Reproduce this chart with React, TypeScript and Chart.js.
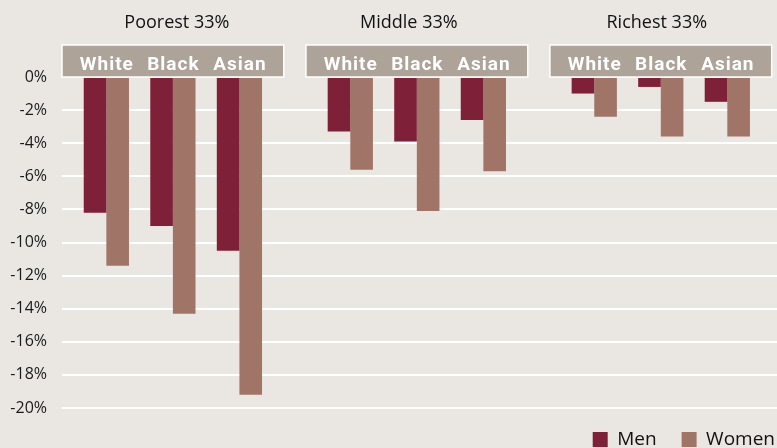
import React, { useEffect, useRef } from "react";
import { Chart, registerables } from "chart.js";

Chart.register(...registerables);

const groups = ["Poorest 33%", "Middle 33%", "Richest 33%"];
const races = ["White", "Black", "Asian"];
const seriesNames = ["Men", "Women"];
// values per group, per race (percent)
const menValues = [
  [-8.2, -9.0, -10.5],
  [-3.3, -3.9, -2.6],
  [-1.0, -0.6, -1.5],
];
const womenValues = [
  [-11.4, -14.3, -19.2],
  [-5.6, -8.1, -5.7],
  [-2.4, -3.6, -3.6],
];
const yTicks = [0, -2, -4, -6, -8, -10, -12, -14, -16, -18, -20];

const GROUP_STRIDE = 11 / 3;
const BOX_PAD = 2 / 3;
const TITLE_SHIFT = [4, -8, -4];

const BG = "#eae7e3";
const MEN = "#7f2039";
const WOMEN = "#a07568";
const BOX = "#ada398";

function buildSeries(values: number[][]) {
  const out: { x: number; y: number }[] = [];
  values.forEach((row, g) =>
    row.forEach((v, r) => out.push({ x: g * GROUP_STRIDE + r, y: v }))
  );
  return out;
}

const headerPlugin = {
  id: "headers",
  afterDatasetsDraw(chart: any) {
    const { ctx, chartArea, scales } = chart;
    const xs = scales.x;
    ctx.save();
    groups.forEach((g, gi) => {
      const base = gi * GROUP_STRIDE;
      const left = xs.getPixelForValue(base - BOX_PAD);
      const right = xs.getPixelForValue(base + races.length - 1 + BOX_PAD);
      const bottom = chartArea.top;
      const top = bottom - 32;
      ctx.fillStyle = BOX;
      ctx.fillRect(left, top, right - left, bottom - top);
      ctx.strokeStyle = "#ffffff";
      ctx.lineWidth = 1.5;
      ctx.strokeRect(left, top, right - left, bottom - top);
      // title
      ctx.fillStyle = "#111111";
      ctx.font = '18px "Open Sans"';
      ctx.textAlign = "center";
      ctx.textBaseline = "alphabetic";
      (ctx as any).letterSpacing = "0px";
      ctx.fillText(g, (left + right) / 2 + TITLE_SHIFT[gi], 28);
      // race labels
      ctx.fillStyle = "#ffffff";
      ctx.font = "bold 19px Roboto";
      (ctx as any).letterSpacing = "1px";
      races.forEach((r, ri) => {
        ctx.fillText(r, xs.getPixelForValue(base + ri) + 0.5, 70);
      });
      (ctx as any).letterSpacing = "0px";
    });
    ctx.restore();
  },
};

const bgPlugin = {
  id: "bg",
  beforeDraw(chart: any) {
    const { ctx, width, height } = chart;
    ctx.save();
    ctx.fillStyle = BG;
    ctx.fillRect(0, 0, width, height);
    ctx.restore();
  },
};

// nudge the legend into the bottom-right corner like the reference
const legendShift = {
  id: "legendShift",
  afterLayout(chart: any) {
    const l = chart.legend;
    if (!l) return;
    l.left += 23;
    l.right += 23;
    l.top -= 3;
    l.bottom -= 3;
  },
};

export default function App() {
  const ref = useRef<HTMLCanvasElement | null>(null);
  useEffect(() => {
    document.body.style.margin = "0";
    document.body.style.overflow = "hidden";
    document.body.style.background = BG;
    if (!ref.current) return;
    const chart = new Chart(ref.current, {
      type: "bar",
      data: {
        datasets: [
          {
            label: seriesNames[0],
            data: buildSeries(menValues),
            backgroundColor: MEN,
            borderWidth: 0,
          },
          {
            label: seriesNames[1],
            data: buildSeries(womenValues),
            backgroundColor: WOMEN,
            borderWidth: 0,
          },
        ],
      },
      options: {
        animation: false,
        responsive: false,
        maintainAspectRatio: false,
        datasets: { bar: { barPercentage: 1, categoryPercentage: 0.68 } },
        layout: { padding: { top: 77, left: 0, right: 0, bottom: 0 } },
        scales: {
          x: {
            type: "linear",
            display: false,
            offset: false,
            min: -2 / 3,
            max: 10.08,
            grid: { display: false, offset: false },
            afterBuildTicks: (s: any) => {
              s.ticks = [{ value: s.min }, { value: s.max }];
            },
          },
          y: {
            min: -20,
            max: 0,
            afterBuildTicks: (s: any) => {
              s.ticks = yTicks.map((v) => ({ value: v }));
            },
            afterFit: (s: any) => {
              s.width = 62;
            },
            ticks: {
              padding: 15,
              color: "#1a1a1a",
              font: { family: "Open Sans", size: 16 },
              callback: (v: any) => `${v}%`,
            },
            grid: {
              drawTicks: false,
              lineWidth: 2,
              color: (c: any) => (c.tick && c.tick.value === 0 ? "rgba(0,0,0,0)" : "#ffffff"),
            },
            border: { display: false },
          },
        },
        plugins: {
          legend: {
            position: "bottom",
            align: "end",
            labels: {
              boxWidth: 15,
              boxHeight: 15,
              padding: 25,
              color: "#111111",
              font: { family: "Open Sans", size: 19 },
            },
          },
          tooltip: { enabled: false },
        },
      },
      plugins: [bgPlugin, headerPlugin, legendShift],
    } as any);
    return () => chart.destroy();
  }, []);
  return (
    <div style={{ width: 777, height: 462 }}>
      <canvas ref={ref} width={777} height={462} style={{ width: 777, height: 462, display: "block" }} />
    </div>
  );
}
